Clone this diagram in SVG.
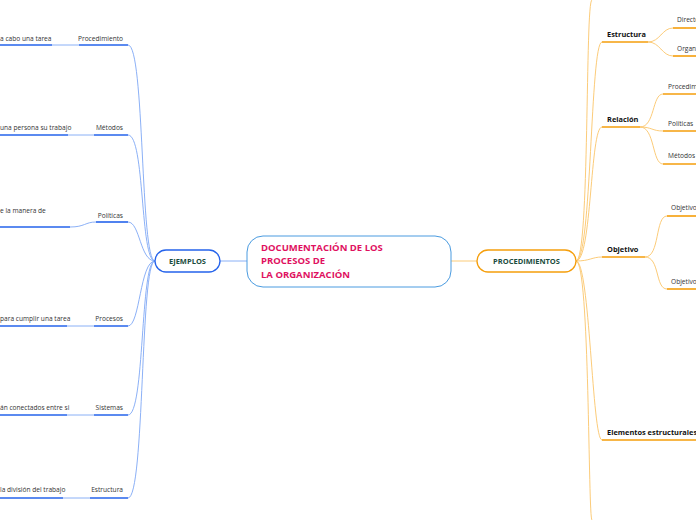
<svg xmlns="http://www.w3.org/2000/svg" width="696" height="520" viewBox="0 0 696 520">
<style>
text{font-family:"Open Sans","Noto Sans",sans-serif}
.s{font-size:6.6px;fill:#333}
.b{font-size:7.4px;font-weight:bold;fill:#111}
.bl{stroke:#2563eb;stroke-width:1.6;fill:none}
.blt{stroke:#7ea7f5;stroke-width:0.9;fill:none}
.or{stroke:#f59e0b;stroke-width:1.6;fill:none}
.ort{stroke:#fbc56a;stroke-width:0.9;fill:none}
</style>
<rect width="696" height="520" fill="#fff"/>
<g id="connectors">
<path class="blt" d="M220 261H247"/>
<path class="ort" d="M451 261H477"/>
<path class="blt" d="M155 261C140 261 145 45 128 45"/>
<path class="blt" d="M155 261C140 261 145 135 128 135"/>
<path class="blt" d="M155 261C140 261 140 222 128 222"/>
<path class="blt" d="M155 261C140 261 140 326 128 326"/>
<path class="blt" d="M155 261C140 261 145 415 128 415"/>
<path class="blt" d="M155 261C140 261 145 498 128 498"/>
<path class="blt" d="M52 45H79M68 135H94M70 227C85 227 85 222 96 222M67 326H94M67 415H94M63 498H90"/>
<path class="ort" d="M576 261C590 261 585 0 592 0"/>
<path class="ort" d="M576 261C592 261 590 42 602 42"/>
<path class="ort" d="M576 261C592 261 590 127 602 127"/>
<path class="ort" d="M576 261C590 261 592 257 602 257"/>
<path class="ort" d="M576 261C590 261 592 440 602 440"/>
<path class="ort" d="M576 261C590 261 588 520 592 520"/>
<path class="ort" d="M648 42C660 42 662 28 673 28M648 42C660 42 662 56 673 56"/>
<path class="ort" d="M640 127C655 127 652 94 663 94M640 127C652 127 652 131 663 131M640 127C655 127 652 164 663 164"/>
<path class="ort" d="M645 257C660 257 655 216 667 216M645 257C660 257 655 289 667 289"/>
</g>
<g id="root"><rect x="247" y="236" width="204" height="51" rx="16" fill="#fff" stroke="#4a9be0" stroke-width="1"/>
<text x="261" y="251" font-size="9.5" font-weight="bold" fill="#e0115f">DOCUMENTACIÓN DE LOS</text>
<text x="261" y="264" font-size="9.5" font-weight="bold" fill="#e0115f">PROCESOS DE</text>
<text x="261" y="278" font-size="9.5" font-weight="bold" fill="#e0115f">LA ORGANIZACIÓN</text></g>
<g id="ejemplos"><rect x="155" y="250" width="65" height="22" rx="11" fill="#fff" stroke="#2563eb" stroke-width="1.3"/>
<text x="187.5" y="264" text-anchor="middle" font-size="7.5" font-weight="bold" fill="#1b4d3e">EJEMPLOS</text></g>
<g id="procedimientos"><rect x="477" y="250" width="99" height="22" rx="11" fill="#fff" stroke="#f59e0b" stroke-width="1.3"/>
<text x="526.5" y="264" text-anchor="middle" font-size="7.5" font-weight="bold" fill="#1b4d3e">PROCEDIMIENTOS</text></g>
<g id="e-proc"><path class="bl" d="M79 45H128"/><text class="s" x="123" y="41" text-anchor="end">Procedimiento</text></g>
<g id="e-proc-c"><path class="bl" d="M0 45H52"/><text class="s" x="0" y="41">a cabo una tarea</text></g>
<g id="e-met"><path class="bl" d="M94 135H128"/><text class="s" x="123" y="130" text-anchor="end">Métodos</text></g>
<g id="e-met-c"><path class="bl" d="M0 135H68"/><text class="s" x="0" y="130">una persona su trabajo</text></g>
<g id="e-pol"><path class="bl" d="M96 222H128"/><text class="s" x="123" y="218" text-anchor="end">Políticas</text></g>
<g id="e-pol-c"><path class="bl" d="M0 227H70"/><text class="s" x="0" y="213">e la manera de</text></g>
<g id="e-pro"><path class="bl" d="M94 326H128"/><text class="s" x="123" y="321" text-anchor="end">Procesos</text></g>
<g id="e-pro-c"><path class="bl" d="M0 326H67"/><text class="s" x="0" y="321">para cumplir una tarea</text></g>
<g id="e-sis"><path class="bl" d="M94 415H128"/><text class="s" x="123" y="410" text-anchor="end">Sistemas</text></g>
<g id="e-sis-c"><path class="bl" d="M0 415H67"/><text class="s" x="0" y="410">án conectados entre si</text></g>
<g id="e-est"><path class="bl" d="M90 498H128"/><text class="s" x="123" y="492" text-anchor="end">Estructura</text></g>
<g id="e-est-c"><path class="bl" d="M0 498H63"/><text class="s" x="0" y="492">la división del trabajo</text></g>
<g id="p-est"><path class="or" d="M602 42H648"/><text class="b" x="607" y="37">Estructura</text></g>
<g id="p-est-1"><path class="or" d="M673 28H696"/><text class="s" x="677" y="22">Directo</text></g>
<g id="p-est-2"><path class="or" d="M673 56H696"/><text class="s" x="677" y="51">Organi</text></g>
<g id="p-rel"><path class="or" d="M602 127H640"/><text class="b" x="607" y="122">Relación</text></g>
<g id="p-rel-1"><path class="or" d="M663 94H696"/><text class="s" x="668" y="89">Procedimiento</text></g>
<g id="p-rel-2"><path class="or" d="M663 131H696"/><text class="s" x="668" y="126">Políticas</text></g>
<g id="p-rel-3"><path class="or" d="M663 164H696"/><text class="s" x="668" y="158">Métodos</text></g>
<g id="p-obj"><path class="or" d="M602 257H645"/><text class="b" x="607" y="252">Objetivo</text></g>
<g id="p-obj-1"><path class="or" d="M667 216H696"/><text class="s" x="671" y="210">Objetivo</text></g>
<g id="p-obj-2"><path class="or" d="M667 289H696"/><text class="s" x="671" y="284">Objetivos</text></g>
<g id="p-ele"><path class="or" d="M602 440H696"/><text class="b" x="607" y="435">Elementos estructurales e</text></g>
</svg>
